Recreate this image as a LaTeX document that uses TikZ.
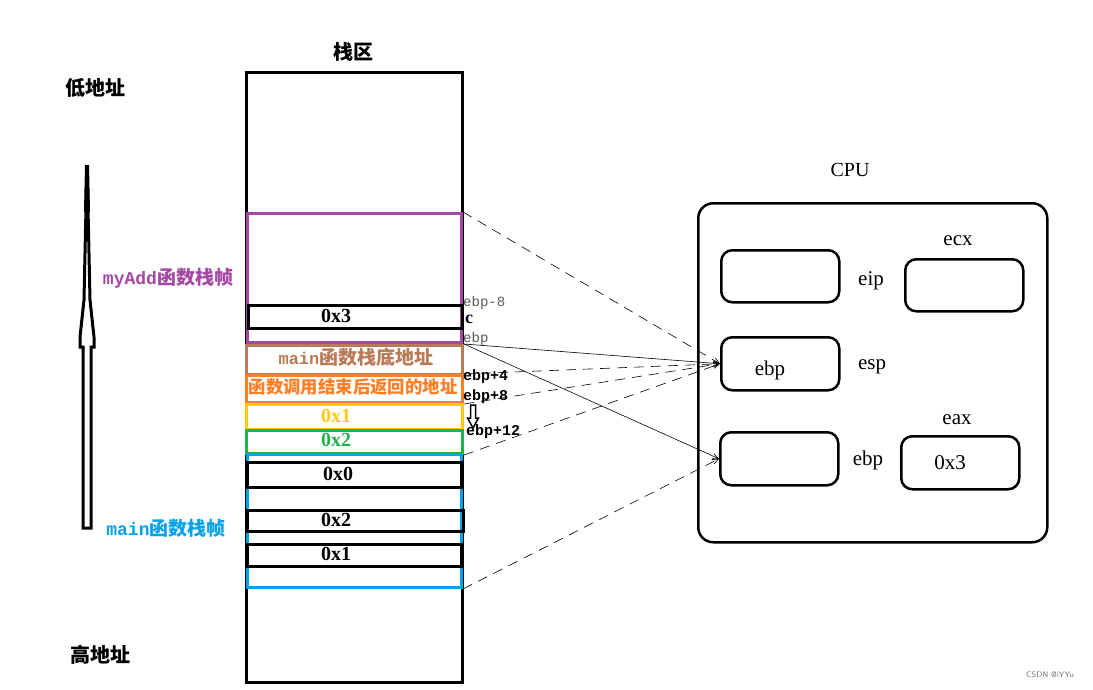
\documentclass[tikz,border=0pt]{standalone}
\usepackage{fontspec}
\setmainfont{Liberation Serif}
\newfontfamily\cjk{Noto Sans CJK SC}
\newfontfamily\mono{Liberation Mono}
\usetikzlibrary{arrows.meta}
\definecolor{ppurple}{HTML}{A349A4}
\definecolor{pbrown}{HTML}{B97A57}
\definecolor{porange}{HTML}{FF7F27}
\definecolor{pyellow}{HTML}{FFC90E}
\definecolor{pgreen}{HTML}{22B14C}
\definecolor{pblue}{HTML}{00A2E8}
\tikzset{
  cell/.style={draw, line width=3pt, anchor=north west, inner sep=0pt},
  reg/.style={draw, line width=2.5pt, rounded corners=11pt, anchor=north west, inner sep=0pt},
  conn/.style={line width=0.6pt, -{Straight Barb[length=6pt,width=5pt]}},
  dconn/.style={conn, dash pattern=on 10pt off 7pt},
  valtxt/.style={font=\bfseries\fontsize{20}{20}\selectfont},
  offtxt/.style={anchor=west, inner sep=0pt, font=\mono\fontsize{14}{14}\selectfont, text=black!65},
  offbold/.style={anchor=west, inner sep=0pt, font=\mono\bfseries\fontsize{15}{15}\selectfont},
  regtxt/.style={font=\fontsize{21}{21}\selectfont},
  zh/.style={font=\cjk\bfseries\fontsize{20}{20}\selectfont}
}
\begin{document}
\begin{tikzpicture}[x=1pt,y=-1pt]
\useasboundingbox[fill=white] (0,0) rectangle (1093,689);

% titles
\node[zh] (title) at (353,52) {栈区};
\node[zh] (low) at (95,88) {低地址};
\node[zh] (high) at (100,655) {高地址};

% stack
\node[cell, minimum width=216pt, minimum height=610pt] (stack) at (245,71) {};
\node[cell, draw=ppurple, minimum width=214pt, minimum height=129pt] (purple) at (246,212) {};
\node[cell, minimum width=214pt, minimum height=23pt] (c3) at (247,304) {};
\node[valtxt] (c3t) at (336,316) {0x3};
\node[cell, draw=pbrown, minimum width=216pt, minimum height=29pt] (brown) at (245,344) {};
\node[text=pbrown] (brownt) at (356,357) {{\mono\bfseries\fontsize{17}{17}\selectfont main}{\cjk\bfseries\fontsize{19}{19}\selectfont 函数栈底地址}};
\node[cell, draw=porange, minimum width=216pt, minimum height=27pt] (orange) at (245,374) {};
\node[text=porange, font=\cjk\bfseries\fontsize{17.4}{17}\selectfont] (oranget) at (353,387) {函数调用结束后返回的地址};
\node[cell, draw=pyellow, minimum width=216pt, minimum height=25pt] (yellow) at (245,403) {};
\node[valtxt, text=pyellow] (yellowt) at (336,416) {0x1};
\node[cell, draw=pgreen, minimum width=216pt, minimum height=23pt] (green) at (245,429) {};
\node[valtxt, text=pgreen] (greent) at (336,440) {0x2};
\node[cell, draw=pblue, minimum width=214pt, minimum height=133pt] (blue) at (246,453) {};
\node[cell, minimum width=214pt, minimum height=25pt] (c0) at (246,461) {};
\node[valtxt] (c0t) at (338,474) {0x0};
\node[cell, minimum width=216pt, minimum height=21pt] (c2) at (246,509) {};
\node[valtxt] (c2t) at (336,520) {0x2};
\node[cell, minimum width=214pt, minimum height=22pt] (c1) at (246,543) {};
\node[valtxt] (c1t) at (336,554) {0x1};

% offsets
\node[offtxt] (om8) at (463,303) {ebp-8};
\node[anchor=west, inner sep=0pt, font=\bfseries\fontsize{18}{18}\selectfont, text=black!85!blue] (cvar) at (465,319) {c};
\node[offtxt] (o0) at (463,339) {ebp};
\node[offbold] (o4) at (463,377) {ebp+4};
\node[offbold] (o8) at (463,397) {ebp+8};
\node[offbold] (o12) at (466,432) {ebp+12};
\draw[line width=1.5pt, line join=miter] (470.5,405) -- (475.5,405) -- (475.5,418) -- (478.5,418) -- (473,428) -- (467.5,418) -- (470.5,418) -- cycle;

% frame labels
\node[text=ppurple] (myadd) at (168,278) {{\mono\bfseries\fontsize{18}{18}\selectfont myAdd}{\cjk\bfseries\fontsize{19}{19}\selectfont 函数栈帧}};
\node[text=pblue] (mainf) at (166,528) {{\mono\bfseries\fontsize{18}{18}\selectfont main}{\cjk\bfseries\fontsize{19}{19}\selectfont 函数栈帧}};

% growth arrow
\draw[line width=3pt, line join=miter] (83,528) -- (83,347) -- (80,347) -- (80,337) -- (84,300) -- (85.5,230) -- (87,165) -- (88.5,230) -- (90,300) -- (94,337) -- (94,347) -- (91,347) -- (91,528) -- cycle;
\fill (85,165) -- (89,165) -- (90,212) -- (84,212) -- cycle;

% CPU
\node[font=\fontsize{20}{20}\selectfont] (cpu) at (850,170) {CPU};
\node[draw, line width=2.5pt, rounded corners=15pt, anchor=north west, minimum width=349pt, minimum height=339pt, inner sep=0pt] (cpubox) at (697,202) {};
\node[reg, minimum width=118pt, minimum height=52pt] (eip) at (720,249) {};
\node[regtxt] (eipl) at (871,281) {eip};
\node[reg, minimum width=118pt, minimum height=52pt] (ecx) at (904,258) {};
\node[regtxt] (ecxl) at (958,241) {ecx};
\node[reg, minimum width=118pt, minimum height=53pt] (esp) at (720,336) {};
\node[regtxt] (espv) at (770,370) {ebp};
\node[regtxt] (espl) at (872,367) {esp};
\node[reg, minimum width=118pt, minimum height=53pt] (ebpr) at (719,431) {};
\node[regtxt] (ebpl) at (868,460) {ebp};
\node[reg, minimum width=118pt, minimum height=53pt] (eax) at (900,435) {};
\node[regtxt] (eaxl) at (957,420) {eax};
\node[regtxt] (eaxv) at (950,463) {0x3};

% connectors
\draw[dconn] (purple.north east) -- (esp.west);
\draw[conn] (brown.north east) -- (esp.west);
\draw[dconn] (orange.north east) -- (esp.west);
\draw[dconn] (orange.south east) -- (esp.west);
\draw[dconn] (green.south east) -- (esp.west);
\draw[conn] (brown.north east) -- (ebpr.west);
\draw[dconn] (blue.south east) -- (ebpr.west);

\node[font=\sffamily\fontsize{8}{8}\selectfont, text=black!55] (wm) at (1050,675) {CSDN @iYYu};
\end{tikzpicture}
\end{document}
